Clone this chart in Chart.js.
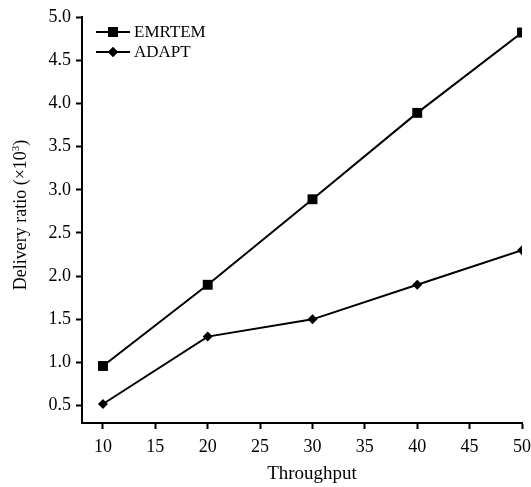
<!DOCTYPE html>
<html>
<head>
<meta charset="utf-8">
<script src="https://cdn.jsdelivr.net/npm/chart.js@4.4.0/dist/chart.umd.min.js"></script>
<style>
html,body{margin:0;padding:0;background:#fff;}
#wrap{width:531px;height:487px;}
</style>
</head>
<body>
<div id="wrap"><canvas id="c" width="531" height="487"></canvas></div>
<script>
const throughput = [10, 20, 30, 40, 50];
const emrtem = [0.96, 1.90, 2.89, 3.89, 4.82];
const adapt = [0.52, 1.30, 1.50, 1.90, 2.30];
const xTicks = [10, 15, 20, 25, 30, 35, 40, 45, 50];
const yTicks = [0.5, 1.0, 1.5, 2.0, 2.5, 3.0, 3.5, 4.0, 4.5, 5.0];
const seriesNames = ['EMRTEM', 'ADAPT'];
const xTitle = 'Throughput';
const yTitleParts = ['Delivery ratio (×10', '3', ')'];

const FONT = '"Liberation Serif", "Times New Roman", serif';

const legendPlugin = {
  id: 'lineLegend',
  afterDraw(chart) {
    const ctx = chart.ctx;
    const rows = [32, 52];
    chart.data.datasets.forEach((ds, i) => {
      const y = rows[i];
      ctx.save();
      ctx.strokeStyle = '#000';
      ctx.lineWidth = 2;
      ctx.beginPath();
      ctx.moveTo(96, y);
      ctx.lineTo(130, y);
      ctx.stroke();
      ctx.fillStyle = '#000';
      Chart.helpers.drawPoint(ctx, {pointStyle: ds.pointStyle, radius: ds.pointRadius, borderWidth: 0}, 113, y);
      ctx.fill();
      ctx.font = '17px ' + FONT;
      ctx.textBaseline = 'middle';
      ctx.textAlign = 'left';
      ctx.fillText(ds.label, 134, y + 1);
      ctx.restore();
    });
  }
};

const titlePlugin = {
  id: 'axisTitles',
  afterDraw(chart) {
    const ctx = chart.ctx;
    ctx.save();
    ctx.fillStyle = '#000';
    ctx.font = '19px ' + FONT;
    ctx.textAlign = 'center';
    ctx.textBaseline = 'alphabetic';
    ctx.fillText(xTitle, 312, 479);
    ctx.translate(26, 215);
    ctx.rotate(-Math.PI / 2);
    ctx.font = '18px ' + FONT;
    const w1 = ctx.measureText(yTitleParts[0]).width;
    ctx.font = '11px ' + FONT;
    const w2 = ctx.measureText(yTitleParts[1]).width;
    ctx.font = '18px ' + FONT;
    const w3 = ctx.measureText(yTitleParts[2]).width;
    const total = w1 + w2 + w3;
    let x = -total / 2;
    ctx.textAlign = 'left';
    ctx.fillText(yTitleParts[0], x, 0);
    x += w1;
    ctx.font = '11px ' + FONT;
    ctx.fillText(yTitleParts[1], x, -7);
    x += w2;
    ctx.font = '18px ' + FONT;
    ctx.fillText(yTitleParts[2], x, 0);
    ctx.restore();
  }
};

new Chart(document.getElementById('c'), {
  type: 'line',
  data: {
    datasets: [
      {
        label: seriesNames[0],
        data: throughput.map((x, i) => ({x, y: emrtem[i]})),
        borderColor: '#000', backgroundColor: '#000',
        borderWidth: 2, pointStyle: 'rect', pointRadius: 7, pointBorderWidth: 0,
        tension: 0
      },
      {
        label: seriesNames[1],
        data: throughput.map((x, i) => ({x, y: adapt[i]})),
        borderColor: '#000', backgroundColor: '#000',
        borderWidth: 2, pointStyle: 'rectRot', pointRadius: 5, pointBorderWidth: 0,
        tension: 0
      }
    ]
  },
  options: {
    responsive: false,
    animation: false,
    layout: {padding: {top: 17, right: 1, left: 0, bottom: 0}},
    plugins: {legend: {display: false}, tooltip: {enabled: false}},
    scales: {
      x: {
        type: 'linear', min: 8, max: 50,
        afterBuildTicks: s => { s.ticks = xTicks.map(v => ({value: v})); },
        afterFit: s => { s.height = 64; s.paddingRight = 9; },
        grid: {drawOnChartArea: false, drawTicks: true, tickLength: 6, tickColor: '#000', tickWidth: 2},
        border: {display: true, color: '#000', width: 2},
        ticks: {color: '#000', font: {family: FONT, size: 18}, padding: 7, maxRotation: 0, autoSkip: false},
        title: {display: false}
      },
      y: {
        type: 'linear', min: 0.3, max: 5.0,
        afterBuildTicks: s => { s.ticks = yTicks.map(v => ({value: v})); },
        afterFit: s => { s.width = 82; },
        grid: {drawOnChartArea: false, drawTicks: true, tickLength: 6, tickColor: '#000', tickWidth: 2},
        border: {display: true, color: '#000', width: 2},
        ticks: {color: '#000', font: {family: FONT, size: 18}, padding: 5, autoSkip: false,
          callback: v => Number(v).toFixed(1)},
        title: {display: false}
      }
    }
  },
  plugins: [legendPlugin, titlePlugin]
});
</script>
</body>
</html>
